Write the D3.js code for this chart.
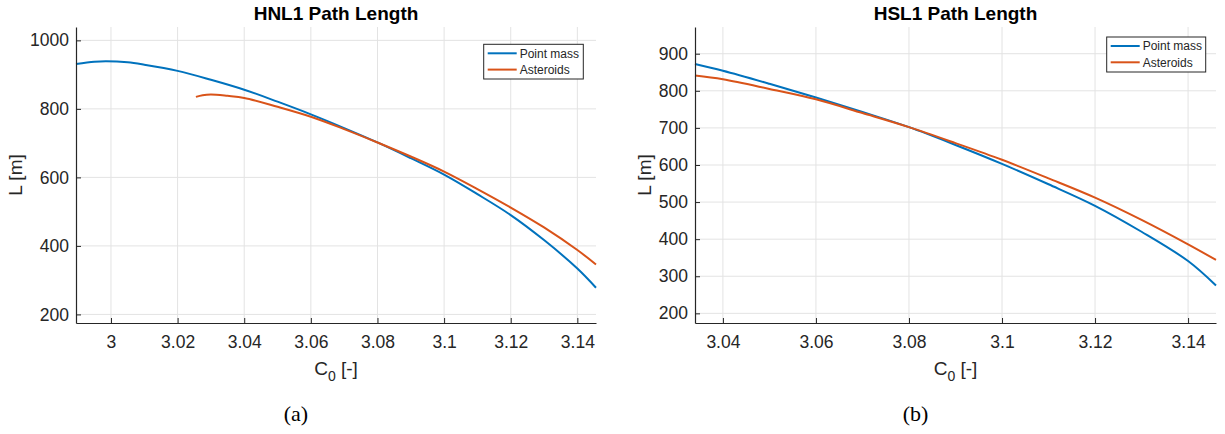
<!DOCTYPE html>
<html><head><meta charset="utf-8">
<script src="https://cdn.jsdelivr.net/npm/d3@7"></script>
<style>body{margin:0;background:#fff}svg{display:block}</style>
</head><body>
<svg id="c" width="1225" height="434"></svg>
<script>
// ---- data ----
const seriesNames = ["Point mass", "Asteroids"];
const seriesColors = ["#0072BD", "#D95319"];

// (a) HNL1
const hnlPointX = [2.9895, 2.995, 2.9985, 3.005, 3.01, 3.02, 3.03, 3.04, 3.05, 3.06, 3.07, 3.08, 3.09, 3.10, 3.11, 3.12, 3.13, 3.14, 3.1456];
const hnlPointL = [931, 937.5, 939, 936, 929, 911, 885, 856, 821, 784, 744, 702, 656, 608, 551, 490, 417, 334, 278];
const hnlAstX = [3.0255, 3.0275, 3.03, 3.035, 3.04, 3.05, 3.06, 3.07, 3.08, 3.09, 3.10, 3.11, 3.12, 3.13, 3.14, 3.1456];
const hnlAstL = [835, 840, 842, 838, 832, 806, 777, 741, 702, 661, 617, 566, 512, 454, 388, 346];
const hnlXTicks = [3, 3.02, 3.04, 3.06, 3.08, 3.1, 3.12, 3.14];
const hnlYTicks = [200, 400, 600, 800, 1000];

// (b) HSL1
const hslPointX = [3.034, 3.04, 3.05, 3.06, 3.07, 3.08, 3.09, 3.10, 3.11, 3.12, 3.13, 3.14, 3.146];
const hslPointL = [872, 854, 819, 782, 743, 702, 654, 603, 548, 490, 420, 341, 275];
const hslAstX = [3.034, 3.04, 3.05, 3.06, 3.07, 3.08, 3.09, 3.10, 3.11, 3.12, 3.13, 3.14, 3.146];
const hslAstL = [841, 831, 805, 777, 740, 702, 659, 614, 564, 512, 452, 386, 344];
const hslXTicks = [3.04, 3.06, 3.08, 3.1, 3.12, 3.14];
const hslYTicks = [200, 300, 400, 500, 600, 700, 800, 900];

const panels = [
  {title: "HNL1 Path Length", label: "(a)", xd: [2.9895, 3.1456], yd: [175, 1039],
   x0: 76, x1: 596, xt: hnlXTicks, yt: hnlYTicks,
   series: [[hnlPointX, hnlPointL], [hnlAstX, hnlAstL]],
   leg: {x: 483.7, y: 44.3, w: 99.6, h: 34.7}, ylabX: 21.5},
  {title: "HSL1 Path Length", label: "(b)", xd: [3.034, 3.146], yd: [174, 972],
   x0: 695, x1: 1216, xt: hslXTicks, yt: hslYTicks,
   series: [[hslPointX, hslPointL], [hslAstX, hslAstL]],
   leg: {x: 1106.7, y: 37, w: 99, h: 35}, ylabX: 650.5}
];

const svg = d3.select("#c");
const plotTop = 27, plotBottom = 323;
const font = "'Liberation Sans', Arial, Helvetica, sans-serif";
const ink = "#262626";
const fmt = d => String(+d.toFixed(2));

panels.forEach(p => {
  const x = d3.scaleLinear().domain(p.xd).range([p.x0, p.x1]);
  const y = d3.scaleLinear().domain(p.yd).range([plotBottom, plotTop]);
  const g = svg.append("g");

  // grid
  g.append("g").selectAll("line").data(p.xt).join("line")
    .attr("x1", d => x(d)).attr("x2", d => x(d)).attr("y1", plotTop).attr("y2", plotBottom)
    .attr("stroke", "#e3e3e3").attr("stroke-width", 1);
  g.append("g").selectAll("line").data(p.yt).join("line")
    .attr("x1", p.x0).attr("x2", p.x1).attr("y1", d => y(d)).attr("y2", d => y(d))
    .attr("stroke", "#e3e3e3").attr("stroke-width", 1);

  // lines
  const line = d3.line().curve(d3.curveCatmullRom.alpha(0.5));
  p.series.forEach((s, i) => {
    const pts = s[0].map((xv, k) => [x(xv), y(s[1][k])]);
    g.append("path").attr("d", line(pts)).attr("fill", "none")
      .attr("stroke", seriesColors[i]).attr("stroke-width", 2);
  });

  // axes
  const ax = g.append("g").attr("transform", `translate(0,${plotBottom})`)
    .call(d3.axisBottom(x).tickValues(p.xt).tickFormat(fmt).tickSizeInner(-5).tickSizeOuter(0).tickPadding(13));
  const ay = g.append("g").attr("transform", `translate(${p.x0},0)`)
    .call(d3.axisLeft(y).tickValues(p.yt).tickFormat(fmt).tickSizeInner(-5).tickSizeOuter(0).tickPadding(7));
  [ax, ay].forEach(a => {
    a.select(".domain").attr("stroke", ink).attr("stroke-width", 1.2);
    a.selectAll(".tick line").attr("stroke", ink);
    a.selectAll(".tick text").attr("fill", ink).style("font-family", font).style("font-size", "17.5px");
  });

  const cx = (p.x0 + p.x1) / 2;
  // title
  g.append("text").attr("x", cx).attr("y", 20).attr("text-anchor", "middle")
    .style("font-family", font).style("font-size", "19px").style("font-weight", "bold")
    .attr("fill", "#000").text(p.title);

  // y label
  g.append("text").attr("transform", `translate(${p.ylabX},175) rotate(-90)`)
    .attr("text-anchor", "middle").style("font-family", font).style("font-size", "19px")
    .attr("fill", ink).text("L [m]");

  // x label
  const xl = g.append("text").attr("x", cx).attr("y", 375).attr("text-anchor", "middle")
    .style("font-family", font).style("font-size", "19px").attr("fill", ink);
  xl.append("tspan").text("C");
  xl.append("tspan").attr("dy", 6).style("font-size", "14px").text("0");
  xl.append("tspan").attr("dy", -6).text(" [-]");

  // sub-figure label
  g.append("text").attr("x", cx - 40).attr("y", 421).attr("text-anchor", "middle")
    .style("font-family", "'Liberation Serif', 'Times New Roman', serif").style("font-size", "22px")
    .attr("fill", "#000").text(p.label);

  // legend
  const L = p.leg;
  const lg = g.append("g");
  lg.append("rect").attr("x", L.x).attr("y", L.y).attr("width", L.w).attr("height", L.h)
    .attr("fill", "#fff").attr("stroke", ink).attr("stroke-width", 1);
  seriesNames.forEach((n, i) => {
    const yy = L.y + 9 + i * 16.3;
    lg.append("line").attr("x1", L.x + 4).attr("x2", L.x + 33).attr("y1", yy).attr("y2", yy)
      .attr("stroke", seriesColors[i]).attr("stroke-width", 2);
    lg.append("text").attr("x", L.x + 36).attr("y", yy + 4.3)
      .style("font-family", font).style("font-size", "12px").attr("fill", ink).text(n);
  });
});
</script>
</body></html>
